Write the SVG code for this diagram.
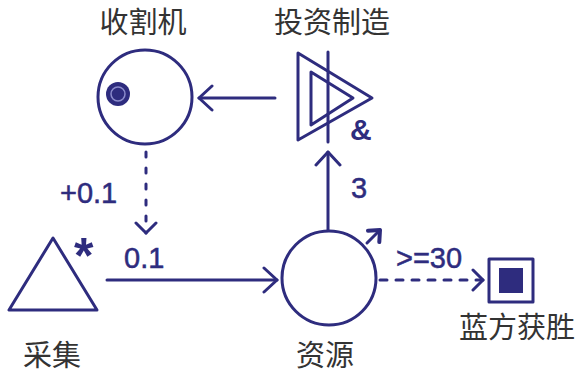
<svg xmlns="http://www.w3.org/2000/svg" width="577" height="377" viewBox="0 0 577 377">
<style>
.s{fill:none;stroke:#2e2c7e;stroke-width:3;stroke-linecap:round;stroke-linejoin:round}
.lbl{font-family:"Noto Sans CJK SC","Noto Sans",sans-serif;font-size:29px;fill:#333;text-anchor:middle}
.num{font-family:"Liberation Sans",Arial,sans-serif;font-size:29px;fill:#2e2c7e;stroke:#2e2c7e;stroke-width:0.5}
.dash{stroke-dasharray:7 9}
.dot{stroke-dasharray:5 11}
</style>
<defs>
<marker id="ah" markerUnits="userSpaceOnUse" viewBox="-16 -14 20 28" markerWidth="20" markerHeight="28" refX="0" refY="0" orient="auto">
<path d="M-13,-12 L0,0 L-13,12" fill="none" stroke="#2e2c7e" stroke-width="3" stroke-linecap="round" stroke-linejoin="round"/>
</marker>
<marker id="ahs" markerUnits="userSpaceOnUse" viewBox="-14 -12 18 24" markerWidth="18" markerHeight="24" refX="0" refY="0" orient="auto">
<path d="M-10,-10 L0,0 L-10,10" fill="none" stroke="#2e2c7e" stroke-width="3" stroke-linecap="round" stroke-linejoin="round"/>
</marker>
<marker id="ahb" markerUnits="userSpaceOnUse" viewBox="-14 -12 18 24" markerWidth="18" markerHeight="24" refX="0" refY="0" orient="auto">
<path d="M-9,-8 L0,0 L-9,8" fill="none" stroke="#2e2c7e" stroke-width="4" stroke-linecap="round" stroke-linejoin="round"/>
</marker>
</defs>
<rect width="577" height="377" fill="#fff"/>
<g id="harvester">
<circle class="s" cx="145" cy="97" r="47"/>
<circle cx="118" cy="94" r="12" fill="#2e2c7e"/>
<circle cx="118" cy="94" r="7" fill="none" stroke="#8c8ccc" stroke-width="1.5"/>
<text class="lbl" x="143" y="33">收割机</text>
</g>
<g id="invest">
<polygon class="s" points="298,53 372,98 298,140"/>
<polygon class="s" points="311,72 353,98 311,125"/>
<line class="s" x1="328" y1="52" x2="328" y2="142"/>
<text x="350" y="140" font-family="'Liberation Sans',Arial,sans-serif" font-size="30" font-weight="bold" fill="#2e2c7e">&amp;</text>
<text class="lbl" x="332" y="33">投资制造</text>
</g>
<g id="gather">
<polygon class="s" points="53,238 9,310 97,310"/>
<text x="74" y="273" font-family="'Liberation Sans',Arial,sans-serif" font-size="50" font-weight="bold" fill="#2e2c7e">*</text>
<text class="lbl" x="52" y="366">采集</text>
</g>
<g id="resource">
<circle class="s" cx="329" cy="278" r="47"/>
<text class="lbl" x="325" y="366">资源</text>
</g>
<g id="win">
<rect class="s" x="489" y="259" width="44" height="43"/>
<rect x="499" y="268" width="24" height="25" fill="#2e2c7e"/>
<text class="lbl" x="517" y="338">蓝方获胜</text>
</g>
<g id="connectors">
<line class="s" x1="275" y1="98" x2="199" y2="98" marker-end="url(#ah)"/>
<line class="s dot" x1="146" y1="152" x2="146" y2="233" marker-end="url(#ahs)"/>
<text class="num" x="60" y="203">+0.1</text>
<line class="s" x1="107" y1="280" x2="277" y2="280" marker-end="url(#ah)"/>
<text class="num" x="124" y="268">0.1</text>
<line class="s" x1="328" y1="230" x2="328" y2="152" marker-end="url(#ah)"/>
<text class="num" x="351" y="198">3</text>
<line class="s" x1="367" y1="243" x2="380" y2="230" marker-end="url(#ahb)"/>
<line class="s dash" x1="380" y1="280" x2="483" y2="280" marker-end="url(#ahs)"/>
<text class="num" x="396" y="268">&gt;=30</text>
</g>
</svg>
